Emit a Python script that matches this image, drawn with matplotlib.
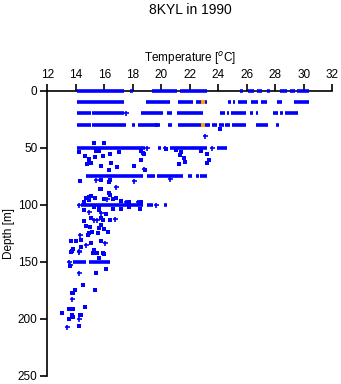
import numpy as np
import matplotlib.pyplot as plt

plt.rcParams['font.family'] = ['Liberation Sans', 'DejaVu Sans']

# dense rows of observations: depth, start temperature, end temperature
row_depth = [0, 0, 0, 0, 0, 0, 0, 0, 0, 0, 0,
             10, 10, 10, 10, 10, 10, 10, 10, 10, 10, 10, 10,
             20, 20, 20, 20, 20, 20, 20, 20, 20, 20, 20, 20, 20,
             30, 30, 30, 30, 30, 30, 30, 30, 30, 30, 30, 30, 30, 30,
             50, 50, 50, 50,
             75, 75, 75, 75, 75, 75,
             100, 100, 100,
             150, 150]
row_t0 = [14.1, 17.8, 19.35, 21.3, 25.5, 26.1, 26.7, 27.4, 28.3, 29.0, 29.55,
          14.1, 18.9, 21.15, 22.4, 23.05, 24.7, 25.0, 25.4, 26.3, 27.0, 28.1, 29.3,
          14.1, 15.15, 18.6, 20.4, 21.1, 24.1, 24.6, 24.9, 26.2, 26.65, 27.85, 28.3, 28.7,
          14.05, 15.15, 17.95, 18.4, 20.5, 21.15, 23.1, 23.55, 24.05, 24.5, 24.95, 26.65, 28.05, 19.55,
          14.05, 19.8, 20.6, 23.9,
          14.7, 19.0, 19.7, 21.9, 22.45, 22.7,
          14.4, 19.0, 20.2,
          13.8, 14.9]
row_t1 = [17.4, 18.0, 21.1, 23.2, 25.7, 26.5, 27.05, 27.6, 28.8, 29.4, 30.35,
          17.4, 20.6, 22.25, 22.85, 23.2, 24.9, 25.2, 26.0, 26.8, 27.4, 28.45, 30.35,
          15.05, 17.35, 20.1, 20.75, 22.95, 24.5, 24.75, 25.95, 26.4, 26.8, 28.2, 28.55, 29.6,
          15.05, 17.5, 18.15, 19.9, 20.75, 22.85, 23.4, 23.9, 24.4, 24.8, 25.95, 27.5, 28.25, 19.8,
          18.85, 20.0, 23.2, 24.6,
          18.7, 19.55, 21.55, 22.15, 22.65, 23.2,
          18.75, 19.45, 20.4,
          14.75, 16.4]

# single observations drawn as squares
sq_t = [24.15, 15.3, 16.0, 14.2, 14.65, 14.9, 14.95, 15.05, 14.8, 15.35, 15.45,
        15.65, 15.9, 16.4, 17.0, 16.5, 16.9, 16.35, 15.75, 18.05, 18.6, 18.6,
        18.8, 18.85, 18.75, 20.3, 21.0, 21.4, 21.3, 21.6, 21.65, 21.25, 22.8,
        23.2, 23.35, 23.2, 14.3, 15.75, 16.3, 16.4, 15.7, 16.3, 16.4, 15.75,
        14.95, 15.1, 14.75, 15.35, 15.95, 16.6, 16.85, 17.2, 17.75, 18.6, 14.95,
        14.6, 14.6, 15.25, 15.6, 15.65, 16.15, 16.6, 17.2, 17.75, 18.5, 15.1,
        15.8, 15.9, 16.4, 14.6, 15.8, 14.75, 15.0, 15.65, 15.95, 15.15, 14.95,
        14.85, 15.55, 16.25, 14.0, 13.65, 14.35, 15.8, 15.05, 14.4, 13.8, 15.25,
        13.65, 15.5, 15.95, 15.6, 13.7, 15.2, 15.9, 13.6, 15.45, 16.1, 14.5,
        13.95, 15.35, 13.7, 13.8, 14.65, 13.5, 13.8, 13.05, 13.7, 14.35, 13.55,
        13.8, 14.3, 14.2]
sq_d = [34, 46, 46, 54, 57.8, 59.8, 62, 63.6, 64.5, 58, 53.3,
        52.8, 57.7, 55.7, 54, 63.6, 67.1, 70, 66, 66, 61.3, 53.3,
        55.4, 69.5, 55, 51, 52, 54, 56.6, 59, 63, 64.7, 53,
        56, 61, 63.9, 79.7, 78.8, 80.5, 78.2, 86.7, 89.6, 91.7, 86.4,
        93, 92.5, 94.6, 94.6, 95.4, 95.4, 94, 97, 97.5, 98, 96,
        98, 104.8, 102.5, 102.5, 104.8, 108.6, 104.2, 104.2, 102.5, 104.2, 112,
        112, 114, 114, 114.5, 118, 118.9, 120, 121, 121.5, 123.8, 124.7,
        126.7, 125.3, 123.8, 131.7, 131.7, 131, 131.7, 134, 137, 139, 140,
        142, 142.8, 143.7, 147, 141, 142.8, 142.8, 154, 160, 157, 170.6,
        175, 175, 178, 178, 189.6, 192, 192, 195.5, 197, 197, 200,
        199, 196.5, 206.8]

# single observations drawn as plus signs
pl_t = [17.55, 23.1, 19.0, 20.25, 23.55, 18.8, 15.4, 18.05, 20.6, 16.8,
        16.2, 17.5, 18.35, 14.2, 19.6, 14.9, 15.8, 15.25, 16.75, 15.5,
        14.3, 16.05, 14.7, 14.2, 13.6, 13.5, 14.2, 14.2, 13.7, 13.35, 14.2]
pl_d = [20, 40, 50, 50, 50, 69, 78.2, 79.7, 77.4, 85,
        95, 97.5, 98, 100, 100, 106.3, 107.7, 113.6, 113, 114,
        126.7, 134, 135.5, 142, 153, 150, 160, 141, 183, 207.7, 200]

# flagged observations (orange)
or_t = [22.95, 22.95]
or_d = [10, 30]

blue = '#0000ff'
orange = '#ffa000'

fig = plt.figure(figsize=(3.41, 3.84), dpi=100)
ax = fig.add_axes([0.1387, 0.0221, 0.8358, 0.7422])

ax.hlines(row_depth, row_t0, row_t1, colors=blue, lw=2.6, capstyle='butt',
          clip_on=False, zorder=3)
ax.plot(sq_t, sq_d, 's', color=blue, ms=2.6, mew=0, clip_on=False, zorder=3)
ax.plot(pl_t, pl_d, '+', color=blue, ms=3.6, mew=1.2, clip_on=False, zorder=3)
ax.plot(or_t, or_d, 's', color=orange, ms=2.8, mew=0, clip_on=False, zorder=4)

ax.set_xlim(12, 32)
ax.set_ylim(250, 0)
ax.set_xticks(np.arange(12, 33, 2))
ax.set_yticks(np.arange(0, 251, 50))
ax.xaxis.tick_top()
ax.xaxis.set_label_position('top')
ax.set_xlabel('Temperature [$^o$C]', fontsize=8.5, labelpad=5)
ax.set_ylabel('Depth [m]', fontsize=8.5)
ax.yaxis.set_label_coords(-0.112, 0.5)
ax.tick_params(direction='out', length=5, width=1.2, labelsize=8.5, pad=2)
for s in ['bottom', 'right']:
    ax.spines[s].set_visible(False)
for s in ['top', 'left']:
    ax.spines[s].set_linewidth(1.2)
ax.patch.set_alpha(0)

fig.text(190 / 341, 1 - 10 / 384, '8KYL in 1990', ha='center', va='center',
         fontsize=10)

fig.savefig('out.png', dpi=100)
